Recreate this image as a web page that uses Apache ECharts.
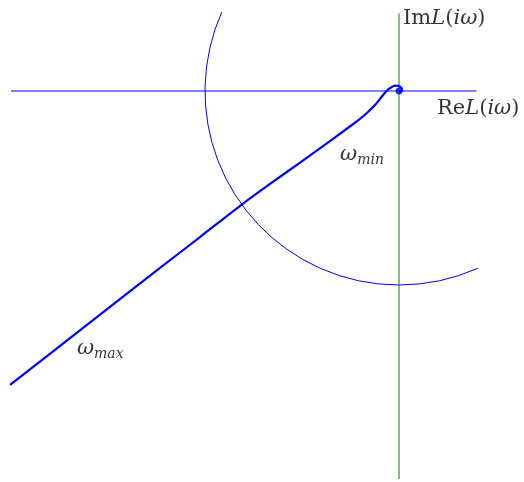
<!DOCTYPE html>
<html>
<head>
<meta charset="utf-8">
<script src="https://cdn.jsdelivr.net/npm/echarts@6/dist/echarts.min.js"></script>
<style>
  html, body { margin: 0; padding: 0; background: #fff; }
  #chart { width: 524px; height: 482px; }
</style>
</head>
<body>
<div id="chart"></div>
<script>
// Nyquist plot of L(iω) with the unit circle and the two axes.

// Real axis and imaginary axis extents (in units of |L|)
const reAxis = [[-2.0, 0], [0.4, 0]];
const imAxis = [[0, -2.0], [0, 0.4]];

// Unit circle arc: radius and angular span (degrees, counter-clockwise)
const unitRadius = 1;
const arcSpanDeg = [156, 294];

// Nyquist curve samples (Re, Im), from ω_max to ω_min
const nyqRe = [-2.005, -1.747, -1.490, -1.232, -1.026, -0.814, -0.665, -0.510, -0.381,
               -0.278, -0.211, -0.160, -0.119, -0.088, -0.062, -0.041, -0.021,  0.000,
                0.013,  0.015,  0.005,  0.000];
const nyqIm = [-1.515, -1.314, -1.113, -0.912, -0.753, -0.588, -0.479, -0.369, -0.276,
               -0.201, -0.152, -0.108, -0.067, -0.028,  0.003,  0.018,  0.028,  0.026,
                0.015,  0.003, -0.005,  0.000];

// Text labels and their anchor points (Re, Im)
const labels = [
  { name: 'im',   at: [0.021, 0.376],  text: '{r|Im}{i|L}{r|(}{i|iω}{r|)}' },
  { name: 're',   at: [0.196, -0.088], text: '{r|Re}{i|L}{r|(}{i|iω}{r|)}' },
  { name: 'wmin', at: [-0.304, -0.33], text: '{i|ω}{s|min}' },
  { name: 'wmax', at: [-1.66, -1.33],  text: '{i|ω}{s|max}' }
];

const FONT = '"DejaVu Serif", "Liberation Serif", serif';
const rich = {
  r: { fontFamily: FONT, fontSize: 21, color: '#000', lineHeight: 26 },
  i: { fontFamily: FONT, fontSize: 21, color: '#000', fontStyle: 'italic', lineHeight: 26 },
  s: { fontFamily: FONT, fontSize: 14, color: '#000', fontStyle: 'italic', lineHeight: 26, padding: [10, 0, 0, 0] }
};

const nyquist = nyqRe.map((x, k) => [x, nyqIm[k]]);

const chart = echarts.init(document.getElementById('chart'), null, { renderer: 'canvas' });

const option = {
  animation: false,
  backgroundColor: '#fff',
  grid: { left: 0, right: 0, top: 0, bottom: 0 },
  xAxis: { type: 'value', min: -399 / 194, max: 125 / 194, show: false },
  yAxis: { type: 'value', min: -391 / 194, max: 91 / 194, show: false },
  series: [
    {
      type: 'line', data: imAxis, symbol: 'none', silent: true,
      lineStyle: { color: '#226f22', width: 1 }
    },
    {
      type: 'line', data: reAxis, symbol: 'none', silent: true,
      lineStyle: { color: '#0000ff', width: 1 }
    },
    {
      type: 'line', data: nyquist, symbol: 'none', smooth: 0.25, silent: true,
      lineStyle: { color: '#0000ff', width: 2.2 }, z: 5
    },
    {
      type: 'scatter', data: [[0, 0]], symbol: 'circle', symbolSize: 7, silent: true,
      itemStyle: { color: '#0000ff' }, z: 6
    },
    {
      type: 'scatter', symbolSize: 0, silent: true,
      data: labels.map(l => ({ name: l.name, value: l.at, txt: l.text })),
      label: {
        show: true, position: 'right', distance: 0,
        formatter: p => p.data.txt,
        rich: rich
      }
    }
  ]
};
chart.setOption(option);

// Unit circle arc, placed through the axis scales
function drawArc() {
  const c = chart.convertToPixel({ gridIndex: 0 }, [0, 0]);
  const e = chart.convertToPixel({ gridIndex: 0 }, [unitRadius, 0]);
  const r = e[0] - c[0];
  const toCanvas = d => (-d * Math.PI) / 180;
  chart.setOption({
    graphic: [{
      type: 'arc', silent: true, z: 1,
      shape: {
        cx: c[0], cy: c[1], r: r,
        startAngle: toCanvas(arcSpanDeg[0]),
        endAngle: toCanvas(arcSpanDeg[1]),
        clockwise: false
      },
      style: { stroke: '#0000ff', lineWidth: 1, fill: null }
    }]
  });
}
drawArc();
</script>
</body>
</html>
